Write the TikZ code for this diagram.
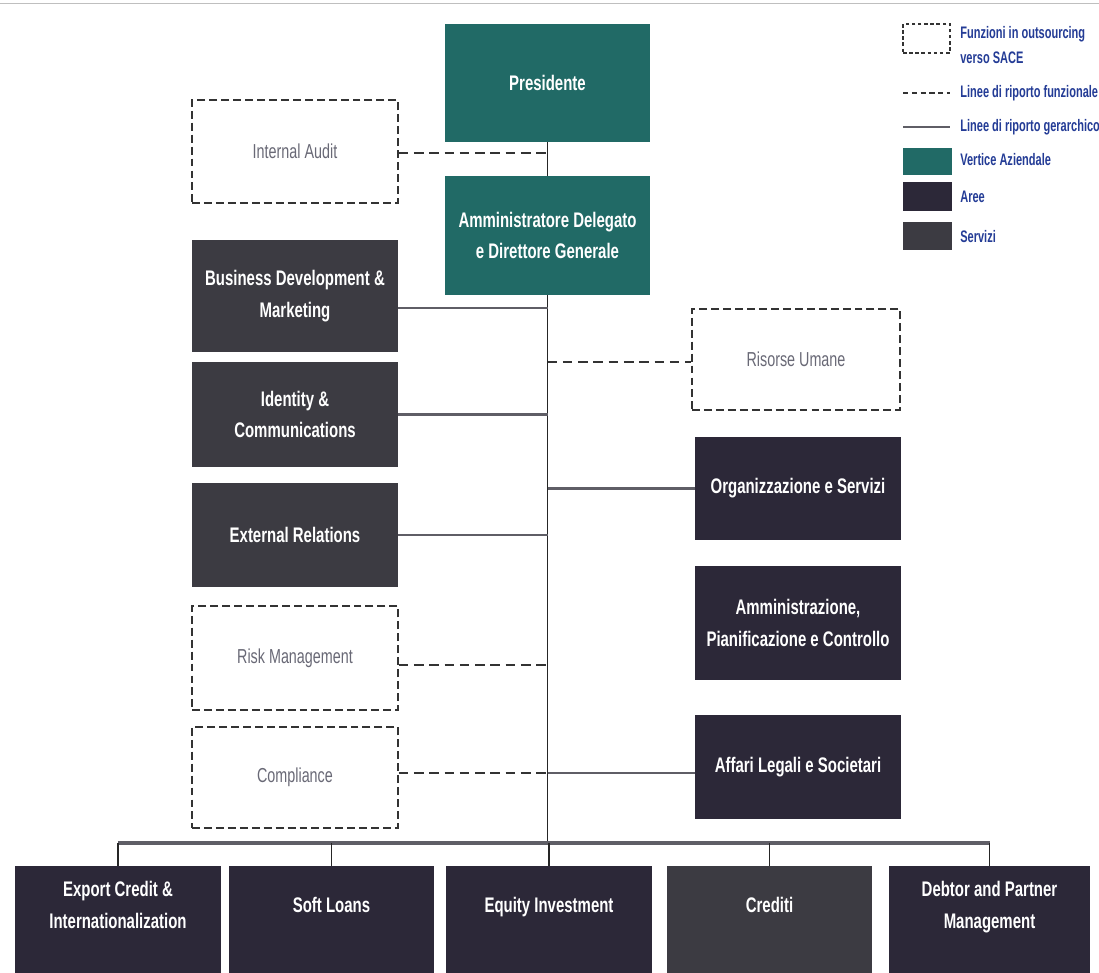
\documentclass[tikz,border=0pt]{standalone}
\usepackage{fontspec}
\setmainfont{Liberation Sans}[FakeStretch=0.71]
\newfontfamily\legendfont{Liberation Sans}[FakeStretch=0.66]
\usetikzlibrary{positioning, calc}
\definecolor{vertice}{RGB}{33,106,102}
\definecolor{aree}{RGB}{44,40,56}
\definecolor{servizi}{RGB}{60,59,66}
\definecolor{legblue}{RGB}{36,60,150}
\definecolor{linegray}{RGB}{95,94,102}
\definecolor{outtext}{RGB}{105,105,118}

\begin{document}
\begin{tikzpicture}[
    x=0.02cm, y=-0.02cm,
    box/.style={minimum width=4.12cm, minimum height=2.1cm, inner sep=0pt,
                align=center, text=white, font=\bfseries\fontsize{12}{18}\selectfont},
    vertex/.style={box, fill=vertice},
    area/.style={box, fill=aree},
    service/.style={box, fill=servizi},
    outsrc/.style={box, fill=white, draw=black!80, line width=0.8pt,
                   dash pattern=on 4.5pt off 2.3pt, text=outtext,
                   font=\fontsize{11.5}{17}\selectfont},
    bottom/.style={minimum height=2.14cm, text depth=16.5pt},
    hier/.style={linegray, line width=1.5pt},
    func/.style={black!80, line width=1.2pt, dash pattern=on 5.5pt off 3.2pt},
    trunk/.style={black!85, line width=1.1pt},
    bus/.style={linegray, line width=2.8pt},
    drop/.style={black!85, line width=0.8pt},
    legtext/.style={anchor=west, inner sep=0pt, align=left, text=legblue,
                    font=\legendfont\bfseries\fontsize{9.5}{14}\selectfont},
    legbox/.style={minimum width=0.98cm, minimum height=0.56cm, inner sep=0pt}
]
    \path[use as bounding box, fill=white] (0,0) rectangle (1099,973);
    \draw[black!25, line width=0.5pt] (0,3) -- (1099,3);

    % vertice
    \node[vertex, minimum height=2.36cm] (pres) at (547.5,83) {Presidente};
    \node[vertex, minimum height=2.38cm] (ad) at (547.5,235.5) {Amministratore Delegato\\e Direttore Generale};

    % left column
    \node[outsrc, minimum height=2.06cm] (audit) at (295,151.5) {Internal Audit};
    \node[service, minimum height=2.24cm] (bizdev) at (295,296) {Business Development \&\\Marketing};
    \node[service] (ident) at (295,414.5) {Identity \&\\Communications};
    \node[service, minimum height=2.08cm] (extrel) at (295,535) {External Relations};
    \node[outsrc, minimum height=2.08cm] (risk) at (295,658) {Risk Management};
    \node[outsrc, minimum height=2.02cm] (compl) at (295,777.5) {Compliance};

    % right column
    \node[outsrc, minimum width=4.16cm, minimum height=2.02cm] (hr) at (796,359.5) {Risorse Umane};
    \node[area, minimum height=2.06cm] (org) at (798,488.5) {Organizzazione e Servizi};
    \node[area, minimum height=2.28cm] (admin) at (798,623) {Amministrazione,\\Pianificazione e Controllo};
    \node[area, minimum height=2.08cm] (legal) at (798,767) {Affari Legali e Societari};

    % bottom row
    \node[area, bottom] (exp) at (118,919.5) {Export Credit \&\\Internationalization};
    \node[area, bottom] (soft) at (331.5,919.5) {Soft Loans};
    \node[area, bottom] (equity) at (549,919.5) {Equity Investment};
    \node[service, bottom] (cred) at (769.5,919.5) {Crediti};
    \node[area, bottom, minimum width=4.02cm] (debtor) at (989.5,919.5) {Debtor and Partner\\Management};

    % reporting lines
    \coordinate (bus) at (547.5,843);
    \coordinate (tAudit) at (547.5,153);
    \coordinate (tBiz) at (547.5,308);
    \coordinate (tHR) at (547.5,362);
    \coordinate (tRisk) at (547.5,665);
    \coordinate (tComp) at (547.5,773);

    \draw[trunk] (pres) -- (ad);
    \draw[trunk] (ad.south) -- (bus);
    \draw[func] (audit.east |- tAudit) -- (tAudit);
    \draw[hier] (bizdev.east |- tBiz) -- (tBiz);
    \draw[hier] (ident.east) -- (ident.east -| ad.south);
    \draw[hier] (extrel.east) -- (extrel.east -| ad.south);
    \draw[func] (tHR) -- (tHR -| hr.west);
    \draw[hier] (org.west -| ad.south) -- (org.west);
    \draw[func] (risk.east |- tRisk) -- (tRisk);
    \draw[func] (compl.east |- tComp) -- (tComp);
    \draw[hier] (tComp) -- (tComp -| legal.west);
    \draw[bus] (exp.north |- bus) -- (debtor.north |- bus);
    \foreach \b in {exp,soft,equity,cred,debtor}
        \draw[drop] (\b.north |- bus) -- (\b.north);

    % legend
    \node[outsrc, minimum width=0.94cm, minimum height=0.58cm, line width=0.6pt,
          dash pattern=on 2pt off 1.5pt] (legOut) at (926.5,38.5) {};
    \node[legtext] (legOutT) at (960,45) {Funzioni in outsourcing\\verso SACE};
    \coordinate (legF1) at (903,93);
    \coordinate (legF2) at (950,93);
    \draw[func, line width=0.9pt, dash pattern=on 3pt off 2pt] (legF1) -- (legF2);
    \node[legtext] (legFT) at (960,93) {Linee di riporto funzionale};
    \coordinate (legH1) at (903,127);
    \coordinate (legH2) at (950,127);
    \draw[hier, line width=1.2pt] (legH1) -- (legH2);
    \node[legtext] (legHT) at (960,127) {Linee di riporto gerarchico};
    \node[legbox, fill=vertice, minimum height=0.54cm] (legV) at (927.5,161.5) {};
    \node[legtext] (legVT) at (960,160) {Vertice Aziendale};
    \node[legbox, fill=aree, minimum height=0.58cm] (legA) at (927.5,196.5) {};
    \node[legtext] (legAT) at (960,197) {Aree};
    \node[legbox, fill=servizi] (legS) at (927.5,236) {};
    \node[legtext] (legST) at (960,237) {Servizi};
\end{tikzpicture}
\end{document}
